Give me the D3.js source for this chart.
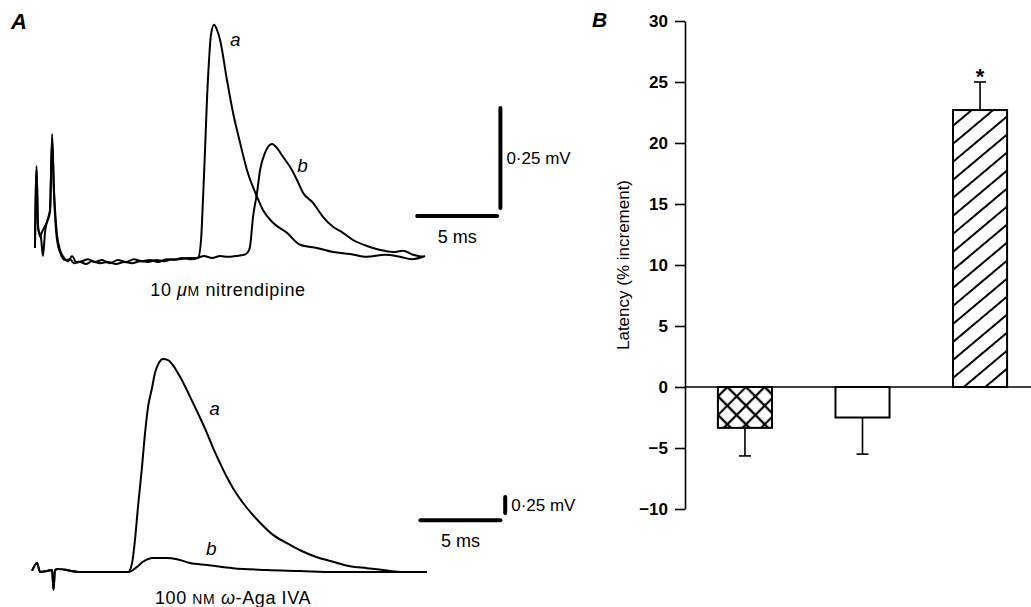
<!DOCTYPE html>
<html>
<head>
<meta charset="utf-8">
<script src="https://cdn.jsdelivr.net/npm/d3@7"></script>
<style>
  body { margin: 0; background: #fff; }
  svg { display: block; font-family: "Liberation Sans", Arial, sans-serif; }
</style>
</head>
<body>
<div id="chart"></div>
<script>
/* A: field potential traces, B: latency bar chart */

// --- A, top: 10 uM nitrendipine (time in ms, voltage in mV)
const nitTimeA = [0.31, 0.41, 0.5, 0.63, 0.75, 0.88, 1.06, 1.25, 1.38, 1.5, 1.69, 1.88, 2.13, 2.38, 2.63, 2.88, 3.25, 3.63, 4.06, 4.5, 5.0, 5.5, 6.0, 6.5, 7.0, 7.5, 8.0, 8.5, 9.0, 9.5, 10.0, 10.5,
  10.69, 10.81, 10.94, 11.06, 11.19, 11.31, 11.5, 11.69, 11.88, 12.31, 12.69, 13.13, 13.56, 14.19, 14.56, 15.19, 16.06, 16.88, 17.94, 18.94, 20.0, 21.06, 22.19, 23.13, 23.88, 24.69];
const nitVoltA = [0.025, 0.23, 0.083, 0.053, 0.065, 0.075, 0.09, 0.115, 0.31, 0.17, 0.058, 0.02, 0, -0.008, 0.005, -0.01, -0.008, -0.003, -0.01, -0.005, -0.013, -0.005, -0.01, -0.003, -0.008, -0.005, -0.01, -0.003, -0.005, 0, -0.003, 0,
  0.045, 0.145, 0.27, 0.395, 0.495, 0.558, 0.583, 0.57, 0.545, 0.445, 0.363, 0.288, 0.22, 0.153, 0.12, 0.088, 0.063, 0.033, 0.025, 0.015, 0.01, 0.003, 0.008, 0.003, -0.003, 0.005];
const nitTimeB = [0.31, 0.41, 0.5, 0.69, 0.81, 0.94, 1.13, 1.25, 1.38, 1.5, 1.69, 1.94, 2.19, 2.5, 2.75, 3.13, 3.5, 3.88, 4.38, 4.88, 5.38, 5.88, 6.38, 6.88, 7.38, 7.88, 8.38, 8.88, 9.38, 9.88, 10.38, 10.88, 11.38, 11.88, 12.38, 12.88, 13.38, 13.63,
  13.75, 13.94, 14.19, 14.38, 14.69, 15.13, 15.44, 15.81, 16.25, 16.69, 17.06, 17.69, 18.31, 18.94, 19.56, 20.19, 21.06, 21.88, 22.69, 23.31, 23.94, 24.56];
const nitVoltB = [0.03, 0.22, 0.075, 0.05, 0.005, 0.065, 0.1, 0.12, 0.295, 0.158, 0.045, 0.008, -0.005, -0.003, -0.013, -0.01, -0.015, -0.008, -0.013, -0.01, -0.015, -0.01, -0.013, -0.008, -0.01, -0.005, -0.008, -0.003, -0.003, 0, 0, 0.005, 0, 0.005, 0.003, 0.005, 0.008, 0.015,
  0.028, 0.103, 0.163, 0.22, 0.263, 0.285, 0.275, 0.253, 0.228, 0.195, 0.163, 0.138, 0.103, 0.078, 0.063, 0.045, 0.03, 0.02, 0.015, 0.018, 0.008, 0.003];

// --- A, bottom: 100 nM omega-Aga IVA
const agaTimeA = [0.13, 0.44, 0.63, 1.06, 1.38, 1.47, 1.56, 1.75, 3.13, 6.13, 6.38, 6.56, 6.75, 7.0, 7.19, 7.38, 7.63, 7.81, 8.06, 8.31, 8.63, 8.94, 9.38, 9.81, 10.19, 10.63, 11.06, 11.44, 11.88, 12.31, 12.69, 13.56, 14.38, 15.19, 16.06, 16.88, 17.94, 18.94, 20.0, 21.06, 22.06, 23.13, 24.81];
const agaVoltA = [0.016, 0.14, 0, 0.016, 0.031, -0.28, 0.031, 0.047, 0, 0, 0.14, 0.5, 1.02, 1.64, 2.17, 2.58, 2.88, 3.11, 3.27, 3.33, 3.31, 3.23, 3.05, 2.84, 2.64, 2.41, 2.17, 1.94, 1.7, 1.48, 1.31, 1.0, 0.77, 0.58, 0.45, 0.34, 0.23, 0.16, 0.09, 0.06, 0.03, 0, 0];
const agaTimeB = [0.13, 0.44, 0.63, 1.06, 1.38, 1.47, 1.56, 1.75, 3.13, 6.13, 6.69, 7.06, 7.69, 8.56, 9.19, 10.0, 11.06, 12.69, 14.81, 16.88, 18.94, 24.81];
const agaVoltB = [0.016, 0.14, 0, 0.016, 0.031, -0.28, 0.031, 0.047, 0, 0, 0.08, 0.16, 0.22, 0.22, 0.2, 0.14, 0.11, 0.06, 0.03, 0.016, 0, 0];

// --- B: latency change (% increment), mean and s.e.m.
const barGroups = ["group1", "group2", "group3"];
const barMeans = [-3.35, -2.5, 22.7];
const barSems = [2.3, 3.0, 2.3];
const barFills = ["url(#xhatch)", "#fff", "url(#dhatch)"];
const barStars = ["", "", "*"];
const yTicks = [-10, -5, 0, 5, 10, 15, 20, 25, 30];

const width = 1031, height = 607;

let svg = d3.select("#chart")
    .append("svg")
    .attr("width", width)
    .attr("height", height);

// hatch patterns for bars
const defs = svg.append("defs");
defs.append("pattern")
    .attr("id", "xhatch")
    .attr("patternUnits", "userSpaceOnUse")
    .attr("width", 13.2).attr("height", 13.2)
    .attr("patternTransform", "translate(718,387) rotate(45)")
    .append("path")
    .attr("d", "M0,6.6H13.2M6.6,0V13.2")
    .attr("stroke", "#000").attr("stroke-width", 2.2);
defs.append("pattern")
    .attr("id", "dhatch")
    .attr("patternUnits", "userSpaceOnUse")
    .attr("width", 10).attr("height", 13.8)
    .attr("patternTransform", "translate(953,387) rotate(-40)")
    .append("path")
    .attr("d", "M-1,6.9H11")
    .attr("stroke", "#000").attr("stroke-width", 2);

// ---------- panel A ----------
const xTrace = d3.scaleLinear().domain([0, 30]).range([30, 510]); // 16 px per ms
const yTop = d3.scaleLinear().domain([0, 0.25]).range([258, 158]); // 0.25 mV = 100 px
const yBot = d3.scaleLinear().domain([0, 0.25]).range([572, 556]); // 0.25 mV = 16 px

function drawTrace(times, volts, yScale) {
    const pts = times.map((t, i) => [t, volts[i]]);
    svg.append("path")
        .datum(pts)
        .attr("fill", "none")
        .attr("stroke", "#000")
        .attr("stroke-width", 2)
        .attr("stroke-linejoin", "round")
        .attr("d", d3.line()
            .x(d => xTrace(d[0]))
            .y(d => yScale(d[1]))
            .curve(d3.curveMonotoneX));
}

drawTrace(nitTimeA, nitVoltA, yTop);
drawTrace(nitTimeB, nitVoltB, yTop);
drawTrace(agaTimeA, agaVoltA, yBot);
drawTrace(agaTimeB, agaVoltB, yBot);

// scale bars: 5 ms and 0.25 mV
function scaleBar(yScale, t0, vH, tV, v0) {
    svg.append("line")
        .attr("x1", xTrace(t0)).attr("x2", xTrace(t0 + 5))
        .attr("y1", yScale(vH)).attr("y2", yScale(vH))
        .attr("stroke", "#000").attr("stroke-width", 4).attr("stroke-linecap", "round");
    svg.append("line")
        .attr("x1", xTrace(tV)).attr("x2", xTrace(tV))
        .attr("y1", yScale(v0)).attr("y2", yScale(v0 + 0.25))
        .attr("stroke", "#000").attr("stroke-width", 4).attr("stroke-linecap", "round");
    svg.append("text")
        .attr("x", xTrace(t0 + 2.5)).attr("y", yScale(vH) + 27)
        .attr("text-anchor", "middle")
        .style("font-size", "18px")
        .text("5 ms");
    svg.append("text")
        .attr("x", xTrace(tV) + 6).attr("y", yScale(v0 + 0.125) + 6)
        .style("font-size", "17px")
        .text("0·25 mV");
}
scaleBar(yTop, 24.2, 0.105, 29.4, 0.125);
scaleBar(yBot, 24.4, 0.81, 29.7, 0.92);

// trace letters
const traceLabels = [
    {t: 12.5, v: 0.53, s: yTop, txt: "a"},
    {t: 16.7, v: 0.215, s: yTop, txt: "b"},
    {t: 11.2, v: 2.45, s: yBot, txt: "a"},
    {t: 11.0, v: 0.27, s: yBot, txt: "b"}
];
svg.selectAll(".tlab")
    .data(traceLabels)
    .join("text")
    .attr("class", "tlab")
    .attr("x", d => xTrace(d.t))
    .attr("y", d => d.s(d.v))
    .style("font-size", "19px")
    .style("font-style", "italic")
    .text(d => d.txt);

// condition captions
let cap1 = svg.append("text")
    .attr("x", 228).attr("y", 296)
    .attr("text-anchor", "middle")
    .style("font-size", "18px")
    .style("letter-spacing", "0.6px");
cap1.append("tspan").text("10 ");
cap1.append("tspan").style("font-style", "italic").text("μ");
cap1.append("tspan").style("font-size", "14px").text("M");
cap1.append("tspan").text(" nitrendipine");

let cap2 = svg.append("text")
    .attr("x", 233).attr("y", 604)
    .attr("text-anchor", "middle")
    .style("font-size", "18px")
    .style("letter-spacing", "0.6px");
cap2.append("tspan").text("100 ");
cap2.append("tspan").style("font-size", "14px").text("NM");
cap2.append("tspan").text(" ");
cap2.append("tspan").style("font-style", "italic").text("ω");
cap2.append("tspan").text("-Aga IVA");

svg.append("text")
    .attr("x", 11).attr("y", 29)
    .style("font-size", "22px").style("font-style", "italic").style("font-weight", "bold")
    .text("A");

// ---------- panel B ----------
const x = d3.scaleBand()
    .domain(barGroups)
    .range([685, 1040])
    .paddingInner(0.54)
    .paddingOuter(0.28);

const y = d3.scaleLinear()
    .domain([-10, 30])
    .range([509, 21]);

// zero line
svg.append("line")
    .attr("x1", 685).attr("x2", width)
    .attr("y1", y(0)).attr("y2", y(0))
    .attr("stroke", "#000").attr("stroke-width", 1.5);

let yAxis = svg.append("g")
    .attr("transform", "translate(685,0)")
    .call(d3.axisLeft(y).tickValues(yTicks).tickSize(10).tickSizeOuter(0).tickPadding(7));
yAxis.select(".domain").attr("stroke-width", 1.6);
yAxis.selectAll(".tick line").attr("stroke-width", 1.6);
yAxis.selectAll(".tick text")
    .style("font-size", "17px")
    .style("font-weight", "bold")
    .style("font-family", "'Liberation Sans', Arial, sans-serif");

svg.append("text")
    .attr("transform", `translate(629,${(y(30) + y(-10)) / 2}) rotate(-90)`)
    .attr("text-anchor", "middle")
    .style("font-size", "17px")
    .text("Latency (% increment)");

let bar = svg.selectAll(".bar")
    .data(barGroups.map((g, i) => ({g, m: barMeans[i], e: barSems[i], f: barFills[i], s: barStars[i]})))
    .join("g")
    .attr("class", "bar");

// error bars first so the bar outline sits on top
bar.append("line")
    .attr("x1", d => x(d.g) + x.bandwidth() / 2)
    .attr("x2", d => x(d.g) + x.bandwidth() / 2)
    .attr("y1", d => y(d.m))
    .attr("y2", d => y(d.m + Math.sign(d.m) * d.e))
    .attr("stroke", "#000").attr("stroke-width", 1.6);
bar.append("line")
    .attr("x1", d => x(d.g) + x.bandwidth() / 2 - 6)
    .attr("x2", d => x(d.g) + x.bandwidth() / 2 + 6)
    .attr("y1", d => y(d.m + Math.sign(d.m) * d.e))
    .attr("y2", d => y(d.m + Math.sign(d.m) * d.e))
    .attr("stroke", "#000").attr("stroke-width", 1.6);

bar.append("rect")
    .attr("x", d => x(d.g))
    .attr("width", x.bandwidth())
    .attr("y", d => y(Math.max(0, d.m)))
    .attr("height", d => Math.abs(y(d.m) - y(0)))
    .attr("fill", d => d.f)
    .attr("stroke", "#000")
    .attr("stroke-width", 2);

// significance mark above the error bar
bar.append("text")
    .attr("x", d => x(d.g) + x.bandwidth() / 2)
    .attr("y", d => y(d.m + d.e) + 2)
    .attr("text-anchor", "middle")
    .style("font-size", "22px")
    .style("font-weight", "bold")
    .text(d => d.s);

svg.append("text")
    .attr("x", 592).attr("y", 27)
    .style("font-size", "21px").style("font-style", "italic").style("font-weight", "bold")
    .text("B");
</script>
</body>
</html>
